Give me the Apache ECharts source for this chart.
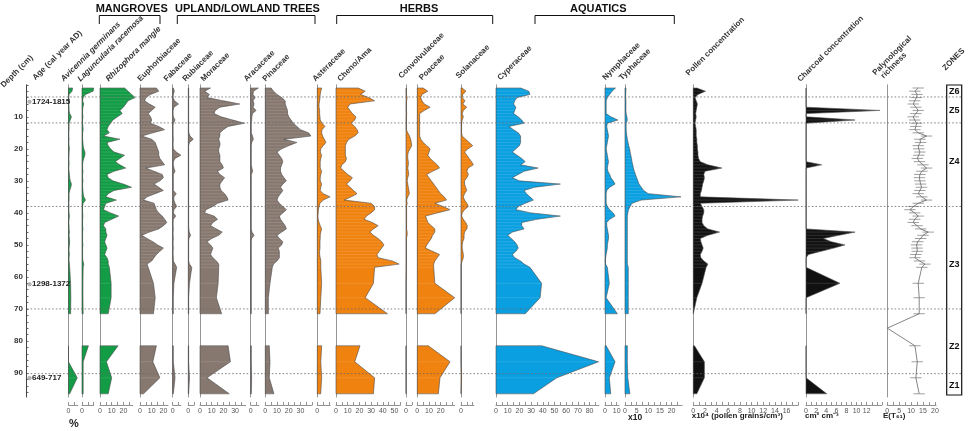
<!DOCTYPE html>
<html>
<head>
<meta charset="utf-8">
<script src="https://cdn.jsdelivr.net/npm/echarts@6/dist/echarts.min.js"></script>
<style>
html, body { margin: 0; background: #fff; }
#chart { width: 970px; height: 431px; }
</style>
</head>
<body>
<div id="chart"></div>
<script>
// sample depths (cm)
const depths = [
  1, 2, 3, 4, 5, 6, 7, 8, 9, 10,
  11, 12, 13, 14, 15, 16, 17, 18, 19, 20,
  21, 22, 23, 24, 25, 26, 27, 28, 29, 30,
  31, 32, 33, 34, 35, 36, 37, 38, 39, 40,
  41, 42, 43, 44, 45, 46, 47, 48, 49, 50,
  51, 52, 53, 54, 55, 56, 57,
  62, 66.5, 71.5, 76, 81.5, 86.5, 91.5, 96.5
];

// mangroves (%)
const avicennia = [
  3.5, 3, 0.5, 0.3, 0.5, 0.3, 0.5, 0.5, 1, 2.5,
  1.5, 0.5, 0.5, 0.5, 0.3, 0.3, 0.5, 0.3, 0.5, 0.8,
  0.5, 0.5, 0.3, 0.5, 0.5, 0.3, 0.5, 0.8, 1, 1.5,
  2.5, 2, 1, 0.5, 0.5, 0.5, 0.3, 0.5, 0.3, 0.5,
  0.8, 0.5, 0.3, 0.5, 0.5, 0.8, 0.5, 0.8, 1, 0.8,
  0.5, 0.5, 0.8, 0.5, 0.5, 0.8, 1,
  1.8, 2, 1.8, null, 0, 0, 7.5, 1
];
const laguncularia = [
  10, 9.5, 3, 1, 0.5, 1.5, 0.8, 0.5, 0.5, 0.8,
  0.5, 0.5, 0.8, 1, 0.5, 0.5, 0.5, 0.8, 1, 1.5,
  2.5, 2.5, 1.5, 0.8, 0.5, 0.5, 0.8, 0.5, 0.5, 0.8,
  0.5, 0.5, 0.8, 1, 1.5, 3, 1, 0.5, 0.5, 0.5,
  0.8, 0.5, 0.5, 0.5, 0.8, 0.5, 0.5, 0.5, 0.5, 0.8,
  0.5, 0.5, 0.5, 0.5, 0.8, 1.5, 1,
  0.8, 0.8, 1, null, 5.5, 1, 1, 1
];
const rhizophora = [
  21, 24, 27, 30, 24, 22, 20, 17, 19, 15,
  11, 9, 7, 6, 8, 3, 17, 6, 7, 9,
  12, 21, 17, 13, 17, 22, 12, 6, 7, 11,
  20, 27, 12, 7, 5, 14, 5, 4, 3, 9,
  16, 10, 4, 3, 5, 5, 6, 5, 4, 5,
  6, 5, 4, 6, 7, 7, 8,
  9.5, 9.5, 7, null, 15.5, 5.5, 10, 7
];

// upland / lowland trees (%)
const euphorbiaceae = [
  14, 16, 9, 5, 4, 8, 13, 10, 7, 9,
  10, 9, 16, 21, 11, 1.5, 10, 13, 14, 15,
  16, 16, 17, 19, 21, 5, 12, 19, 20, 17,
  12, 16, 20, 13, 6, 3, 12, 13, 14, 16,
  19, 21, 23, 20, 16, 8, 1.5, 6, 11, 15,
  20, 17, 14, 12, 10, 6, 7,
  11.5, 13, 11.5, null, 14, 11, 17, 3
];
const fabaceae = [
  0.5, 1.4, 0.5, 0.3, 1.5, 5, 1, 0.3, 0.3, 0.5,
  2, 0.5, 0.3, 0.3, 0.3, 0.3, 0.5, 0.3, 0.3, 0.5,
  3, 7, 2, 0.5, 0.5, 1, 2, 0.5, 0.5, 0.5,
  0.5, 0.5, 0.5, 3, 1, 1, 2, 3.4, 1, 0.5,
  2.6, 0.5, 0.3, 0.3, 0.5, 0.3, 0.3, 0.5, 0.3, 0.3,
  0.5, 0.3, 0.3, 0.5, 0.5, 2, 3.4,
  1, 0.5, 0.5, null, 0.5, 0.5, 2, 0.5
];
const rubiaceae = [
  0.3, 0.3, 0.3, 0.3, 0.3, 0.3, 0.3, 0.3, 0.3, 0.3,
  0.3, 0.3, 0.3, 0.3, 0.5, 1.5, 4.3, 1, 0.3, 0.3,
  0.3, 0.3, 0.3, 0.3, 0.3, 0.3, 0.3, 0.3, 0.3, 0.3,
  0.3, 0.3, 0.3, 0.3, 0.3, 0.3, 0.3, 0.3, 0.3, 0.3,
  0.3, 0.3, 0.3, 0.3, 0.5, 0.8, 2, 0.5, 0.3, 0.3,
  0.3, 0.3, 0.3, 0.3, 0.3, 1, 3,
  1, 0.3, 0.3, null, 0.3, 0.3, 1, 0.3
];
const moraceae = [
  9, 4, 8, 6, 20, 34, 17, 13, 12, 18,
  28, 38, 24, 20, 17, 17, 16, 17, 17, 16,
  16, 17, 17, 17, 19, 20, 15, 17, 21, 19,
  17, 17, 18, 21, 23, 24, 15, 11, 5, 4,
  12, 15, 11, 9, 14, 19, 16, 10, 6, 9,
  11, 10, 9, 11, 14, 16, 16,
  15.5, 14, 18.5, null, 24, 26, 6, 25
];
const aracaceae = [
  6.6, 2.3, 2, 3.7, 2, 2.9, 2, 4.6, 1.5, 1,
  0.8, 0.5, 0.5, 0.5, 0.5, 1.5, 2.3, 0.8, 0.5, 0.5,
  0.5, 0.5, 0.5, 0.5, 0.5, 1, 1.7, 0.5, 0.5, 0.5,
  0.5, 0.5, 0.5, 0.5, 0.5, 0.5, 0.5, 0.5, 0.5, 0.5,
  0.5, 0.5, 0.5, 0.5, 0.5, 1, 2.9, 0.8, 0.5, 0.5,
  0.5, 0.5, 0.5, 0.5, 0.5, 0.5, 0.5,
  0.5, 0.5, 0.5, null, 0.5, 0.5, 0.8, 0.5
];
const pinaceae = [
  5, 7, 10, 14, 17, 17, 18, 19, 19, 20,
  22, 24, 27, 30, 37, 39, 16, 27, 20, 14,
  10, 12, 14, 15, 14, 13, 13, 14, 16, 18,
  15, 13, 15, 13, 11, 10, 12, 15, 18, 15,
  12, 13, 15, 17, 18, 14, 10, 12, 15, 14,
  11, 12, 12, 12, 10, 7, 6,
  4, 2.6, 2.6, null, 3.4, 4, 3.4, 7.4
];

// herbs (%)
const asteraceae = [
  3.7, 3, 2.5, 2.3, 2, 1.5, 1.5, 2, 2, 2.3,
  2.5, 4, 6.6, 4, 3.7, 4.5, 6, 7.4, 5, 3,
  2.5, 3.7, 3, 2.5, 2.5, 2.5, 3.7, 3, 2.5, 2.5,
  3.7, 3, 2.5, 5, 10.9, 5, 2.3, 1.5, 1, 0.8,
  0.5, 0.8, 1.5, 2.5, 3.7, 3, 2.5, 2.5, 2.3, 2.3,
  2.3, 2, 2, 2.5, 3, 3, 3,
  3.7, 3, 2.3, null, 3.7, 3, 3.7, 2.9
];
const chenoAma = [
  19, 25, 21, 28, 33, 12, 10, 12, 14, 17,
  16, 13, 16, 18, 19, 16, 11, 9, 8, 8,
  8, 8, 9, 8, 5, 4, 7, 10, 14, 12,
  9, 12, 15, 18, 13, 7, 30, 33, 33, 30,
  26, 24, 31, 36, 32, 29, 32, 36, 39, 41,
  39, 37, 35, 36, 48, 54, 33,
  32, 25, 44, null, 20.5, 16, 33, 32
];
const convolvulaceae = [
  0.3, 0.3, 0.3, 1, 0.5, 0.3, 0.3, 0.3, 0.6, 0.3,
  0.3, 0.3, 0.3, 0.3, 1.5, 3, 4, 4.5, 4.9, 3.5,
  2, 1.5, 1.5, 2, 2, 1.5, 2, 2.3, 1.5, 1,
  1.5, 2, 2.5, 2.9, 1.5, 0.5, 1, 0.5, 0.5, 0.5,
  0.5, 0.5, 0.5, 0.5, 0.5, 1, 1, 0.3, 0.3, 0.3,
  0.3, 0.3, 0.3, 0.3, 0.3, 0.3, 0.3,
  0, 0, 0, null, 0, 0, 0, 0
];
const poaceae = [
  5, 9, 4, 3, 4, 6, 11, 6, 2, 2,
  2, 2, 2, 2, 2, 2, 3, 5, 8, 11,
  10, 9, 11, 14, 17, 19, 13, 8, 10, 12,
  14, 16, 18, 20, 23, 25, 15, 22, 28, 17,
  7, 8, 9, 12, 15, 15, 13, 12, 10, 8,
  7, 13, 19, 17, 15, 14, 14,
  15, 32, 15, null, 9.4, 28, 19.4, 18
];
const solanaceae = [
  1, 4.3, 1.5, 1, 3.4, 1.5, 4.9, 2, 1, 2,
  1, 0.5, 0.5, 0.5, 0.5, 1, 4, 7, 10, 6,
  3, 5, 7, 9, 10.6, 6, 5, 6.3, 5, 3,
  3, 4, 4.9, 3, 2, 3, 5, 6.3, 3, 1,
  0.5, 2, 4, 5.4, 5, 3, 2.6, 2.6, 1.5, 1,
  1, 1.5, 2, 2, 1, 0, 0,
  0, 0, 0, null, 0, 0, 0.5, 0
];

// aquatics (%, Typhaceae x10)
const cyperaceae = [
  21, 28, 29, 18, 16, 15, 17, 16, 15, 19,
  22, 24, 11, 15, 19, 21, 21, 21, 20, 17,
  14, 18, 22, 25, 21, 36, 24, 19, 14, 20,
  55, 33, 24, 26, 29, 32, 25, 19, 17, 30,
  55, 35, 22, 22, 24, 14, 10, 13, 16, 18,
  19, 17, 14, 16, 21, 24, 29,
  39, 37.7, 25, null, 39, 87.7, 52, 32
];
const nymphaceae = [
  9, 6, 4, 2, 1, 1, 1, 1, 1, 5,
  11, 2, 1.5, 2, 2.5, 3, 2.5, 2, 1.5, 1,
  1.5, 2, 2.5, 3, 2.5, 2, 2.5, 4, 5, 7,
  8.6, 4, 1.5, 1, 1, 1, 1, 2, 4, 7,
  8.6, 4, 1.5, 1.5, 2, 2.5, 3, 3, 2.5, 2,
  2, 1.5, 1, 0.5, 0.2, 0.5, 2,
  3.7, 1, 10.6, null, 1, 8.6, 3.7, 4.9
];
const typhaceae = [
  0.4, 0.4, 0.3, 0.3, 0.4, 0.4, 0.4, 0.4, 0.5, 0.8,
  1, 0.5, 0.5, 0.5, 0.6, 0.8, 1, 1.3, 1.6, 2,
  2.2, 2.5, 2.8, 3, 3.3, 3.6, 4, 4.5, 5, 5.5,
  6, 7, 8, 10, 24, 7, 3, 2.2, 1.5, 1.2,
  1, 1, 1, 1, 1, 1, 1, 1, 1, 1,
  1, 1, 1, 1, 1, 1, 1.4,
  1.4, 1.4, 1.4, null, 1, 1, 1.2, 2.1
];

// concentrations and richness
const pollenConc = [
  0.6, 2.1, 0.8, 0.3, 0.5, 0.7, 0.6, 0.5, 0.4, 0.5,
  0.4, 0.3, 0.4, 0.5, 0.5, 0.5, 0.6, 0.6, 0.7, 0.7,
  0.8, 0.8, 0.9, 1.2, 2.5, 4.9, 2, 1.8, 1.9, 1.8,
  1.6, 1.5, 1.4, 1.2, 1.2, 18, 1.2, 1.5, 1.8, 1.8,
  1.6, 1.5, 1.5, 1.8, 2.5, 4.5, 2.5, 1.2, 1.3, 1.5,
  1.7, 1.5, 1.2, 1.3, 1.8, 2.5, 2.2,
  1.5, 0.6, 0, null, 0.2, 1.9, 1.9, 0.6
];
const charcoalConc = [
  0, 0, 0, 0, 0, 0, 0, 14.6, 0, 0,
  9.7, 0, 0, 0, 0, 0, 0, 0, 0, 0,
  0, 0, 0, 0, 3.1, 0, 0, 0, 0, 0,
  0, 0, 0, 0, 0, 0, 0, 0, 0, 0,
  0, 0, 0, 0, 0, 9.7, 6.5, 3.4, 5, 7.7,
  5.5, 3, 0.5, 0, 0, 0, 0,
  6.7, 0, 0, null, 0, 0, 0, 4.1
];
const richness = [
  13, 11.6, 12.5, 12.3, 11.5, 10.9, 12, 13, 12, 10.9,
  11.5, 12.3, 12, 11.6, 13, 16.5, 13.7, 14, 13, 13.2,
  13.7, 13.2, 12.6, 13.5, 15, 16.5, 14.5, 13.7, 13.5, 13.7,
  14, 14.4, 13.7, 13, 14.5, 16.5, 13, 11, 9.5, 11.5,
  13, 11.5, 10.9, 12.5, 14, 17.2, 15, 14, 12.8, 12.3,
  12.5, 12.6, 12, 11.6, 13.5, 15.8, 14.5,
  13, 13.4, 13.4, 0, 11.6, 12.6, 12, 13.4
];

const zoneBounds = [3.8, 11.9, 38, 70, 90.2];
const zoneNames = ['Z6', 'Z5', 'Z4', 'Z3', 'Z2', 'Z1'];
const zoneMids = [2, 7.9, 24, 56.3, 81.8, 94];
const ageDepths = [5.3, 62.3, 91.6];
const ageLabels = ['1724-1815', '1298-1372', '649-717'];

const FONT = '"Liberation Sans", Arial, sans-serif';
const GREEN = '#119c45', BROWN = '#87786f', ORANGE = '#f0820f', BLUE = '#0a9fe0', BLACK = '#111111';
const TOP = 84.8, H = 312.2, DMAX = 97.5;
const P = 1.17; // px per percent

const panels = [
  { label: 'Avicennia germinans', italic: true, values: avicennia, left: 68.5, max: 8, color: GREEN, lx: 65, ly: 83 },
  { label: 'Laguncularia racemosa', italic: true, values: laguncularia, left: 82, max: 10, labelMax: 0, color: GREEN, lx: 81.7, ly: 83 },
  { label: 'Rhizophora mangle', italic: true, values: rhizophora, left: 100, max: 28, color: GREEN, lx: 110, ly: 83 },
  { label: 'Euphorbiaceae', values: euphorbiaceae, left: 140, max: 24, color: BROWN, lx: 141.7, ly: 83 },
  { label: 'Fabaceae', values: fabaceae, left: 172.7, max: 7, color: BROWN, lx: 168, ly: 83 },
  { label: 'Rubiaceae', values: rubiaceae, left: 188.3, max: 5, color: BROWN, lx: 186.7, ly: 83 },
  { label: 'Moraceae', values: moraceae, left: 200, max: 39, color: BROWN, lx: 205, ly: 83 },
  { label: 'Aracaceae', values: aracaceae, left: 250.7, max: 7, color: BROWN, lx: 248, ly: 83 },
  { label: 'Pinaceae', values: pinaceae, left: 265.3, max: 40, labelMax: 30, color: BROWN, lx: 266.7, ly: 83 },
  { label: 'Asteraceae', values: asteraceae, left: 317.3, max: 11, labelMax: 0, color: ORANGE, lx: 316.7, ly: 83 },
  { label: 'Cheno/Ama', values: chenoAma, left: 336, max: 55, color: ORANGE, lx: 341.7, ly: 83 },
  { label: 'Convolvulaceae', values: convolvulaceae, left: 406, max: 5, color: ORANGE, lx: 402.7, ly: 80 },
  { label: 'Poaceae', values: poaceae, left: 417.3, max: 32, labelMax: 20, color: ORANGE, lx: 423.3, ly: 81.7 },
  { label: 'Solanaceae', values: solanaceae, left: 461, max: 11, labelMax: 0, color: ORANGE, lx: 460, ly: 80 },
  { label: 'Cyperaceae', values: cyperaceae, left: 496, max: 88, color: BLUE, lx: 501.7, ly: 81.7 },
  { label: 'Nymphaceae', values: nymphaceae, left: 605, max: 12, color: BLUE, lx: 606.7, ly: 81.7 },
  { label: 'Typhaceae', values: typhaceae, left: 625, ppu: 2.33, max: 24.5, tickStep: 2.5, labelStep: 5, color: BLUE, lx: 623.3, ly: 81.7 },
  { label: 'Pollen concentration', values: pollenConc, left: 693.3, ppu: 5.83, max: 18, tickStep: 1, labelStep: 2, labelMax: 16, color: BLACK, lx: 690, ly: 77.3 },
  { label: 'Charcoal concentration', values: charcoalConc, left: 806, ppu: 5.06, max: 15, tickStep: 1, labelStep: 2, labelMax: 12, color: BLACK, lx: 801.7, ly: 83.3 }
];

function steps(max, step) {
  const out = [];
  for (let v = 0; v <= max + 1e-9; v += step) out.push(+v.toFixed(2));
  return out;
}

const grids = [], xAxes = [], yAxes = [], series = [];
function addGrid(g, x, y) {
  grids.push(g);
  const i = grids.length - 1;
  xAxes.push(Object.assign({ gridIndex: i }, x));
  yAxes.push(Object.assign({ gridIndex: i }, y));
  return i;
}
const hiddenX = { type: 'value', show: false, min: 0, max: 1 };
const depthY = {
  type: 'value', inverse: true, min: 0, max: DMAX,
  axisLabel: { show: false }, axisTick: { show: false }, splitLine: { show: false },
  axisLine: { show: false, onZero: false }
};

// depth axis
addGrid({ left: 26, top: TOP, width: 1, height: H }, hiddenX, Object.assign({}, depthY, {
  axisLine: { show: true, onZero: false, lineStyle: { color: '#444', width: 1 } },
  axisTick: { show: true, inside: true, length: 2.5, customValues: steps(96, 2), lineStyle: { color: '#444', width: 0.8 } },
  axisLabel: { show: true, customValues: [10, 20, 30, 40, 50, 60, 70, 80, 90], fontSize: 8, fontWeight: 'bold', color: '#333', margin: 3, fontFamily: FONT }
}));

function bottomAxis(max, tickStep, labelStep, labelMax) {
  return {
    type: 'value', min: 0, max: max, position: 'bottom', offset: 8,
    axisLine: { show: true, onZero: false, lineStyle: { color: '#777', width: 0.8 } },
    axisTick: { show: true, inside: true, length: 3, customValues: steps(max, tickStep), lineStyle: { color: '#777', width: 0.8 } },
    axisLabel: { show: true, customValues: steps(labelMax, labelStep), fontSize: 7, color: '#555', margin: 3, fontFamily: FONT },
    splitLine: { show: false }
  };
}

function areaRender(p) {
  return function (params, api) {
    if (params.dataIndex !== 0) return;
    const segs = [];
    let seg = [];
    depths.forEach((d, i) => {
      const v = p.values[i];
      if (v == null) {
        if (seg.length) segs.push(seg);
        seg = [];
      } else {
        seg.push([v, d]);
      }
    });
    if (seg.length) segs.push(seg);
    const children = [];
    segs.forEach(s => {
      const pts = [api.coord([0, s[0][1]])];
      s.forEach(q => pts.push(api.coord(q)));
      pts.push(api.coord([0, s[s.length - 1][1]]));
      children.push({ type: 'polygon', shape: { points: pts }, style: { fill: p.color, stroke: '#4a4a4a', lineWidth: 0.6 } });
      s.forEach(q => {
        const a = api.coord([0, q[1]]), b = api.coord(q);
        if (b[0] - a[0] > 1.5) {
          children.push({ type: 'line', shape: { x1: a[0] + 0.6, y1: a[1], x2: b[0] - 0.6, y2: b[1] },
            style: { stroke: 'rgba(255,255,255,0.25)', lineWidth: 0.5 } });
        }
      });
    });
    return { type: 'group', children: children };
  };
}

panels.forEach(p => {
  const ppu = p.ppu || P;
  const gi = addGrid(
    { left: p.left, top: TOP, width: p.max * ppu, height: H },
    bottomAxis(p.max, p.tickStep || 5, p.labelStep || 10, p.labelMax != null ? p.labelMax : p.max),
    Object.assign({}, depthY, { axisLine: { show: true, onZero: false, lineStyle: { color: '#8a8a8a', width: 0.9 } } })
  );
  series.push({
    type: 'custom', xAxisIndex: gi, yAxisIndex: gi, silent: true, z: 2,
    data: depths.map((d, i) => [p.values[i] == null ? 0 : p.values[i], d]),
    encode: { x: 0, y: 1 },
    renderItem: areaRender(p)
  });
});

// palynological richness
const rg = addGrid(
  { left: 887.3, top: TOP, width: 20.5 * 2.38, height: H },
  bottomAxis(20.5, 2.5, 5, 20),
  Object.assign({}, depthY, { axisLine: { show: true, onZero: false, lineStyle: { color: '#8a8a8a', width: 0.9 } } })
);
const richRows = depths.map((d, i) => [richness[i], d]);
series.push({
  type: 'line', xAxisIndex: rg, yAxisIndex: rg, silent: true, symbol: 'none', z: 3,
  data: richRows, lineStyle: { color: '#666', width: 0.8 }
});
series.push({
  type: 'custom', xAxisIndex: rg, yAxisIndex: rg, silent: true, z: 3,
  data: richRows, encode: { x: 0, y: 1 },
  renderItem: function (params, api) {
    const v = api.value(0), d = api.value(1);
    if (!v) return;
    const a = api.coord([v - 2.4, d]), b = api.coord([v + 2.4, d]);
    return { type: 'line', shape: { x1: a[0], y1: a[1], x2: b[0], y2: b[1] }, style: { stroke: '#777', lineWidth: 0.7 } };
  }
});

// overlay: zone boundaries and dated levels
const og = addGrid({ left: 27, top: TOP, width: 935, height: H }, hiddenX, Object.assign({}, depthY, { show: false }));
series.push({
  type: 'custom', xAxisIndex: og, yAxisIndex: og, silent: true, z: 6,
  data: zoneBounds.map(d => [0, d]), encode: { x: 0, y: 1 },
  renderItem: function (params, api) {
    const a = api.coord([0, api.value(1)]), b = api.coord([1, api.value(1)]);
    return { type: 'line', shape: { x1: a[0], y1: a[1], x2: b[0], y2: b[1] },
      style: { stroke: '#6a6a6a', lineWidth: 0.8, lineDash: [1.6, 2] } };
  }
});
series.push({
  type: 'custom', xAxisIndex: og, yAxisIndex: og, silent: true, z: 7,
  data: ageDepths.map(d => [0, d]), encode: { x: 0, y: 1 },
  renderItem: function (params, api) {
    const pt = api.coord([0, api.value(1)]);
    return { type: 'group', children: [
      { type: 'circle', shape: { cx: pt[0] + 2.5, cy: pt[1], r: 1.8 }, style: { fill: '#bbb', stroke: '#888', lineWidth: 0.5 } },
      { type: 'text', x: pt[0] + 5, y: pt[1], style: { text: ageLabels[params.dataIndex], fill: '#222',
        font: 'bold 8px ' + FONT, textAlign: 'left', textVerticalAlign: 'middle' } }
    ] };
  }
});

// zones box
const zg = addGrid(
  { left: 946.7, top: 85, width: 15, height: 310, show: true, borderColor: '#111', borderWidth: 1.2, backgroundColor: 'transparent' },
  hiddenX,
  { type: 'value', inverse: true, show: false, min: (85 - TOP) / 3.2, max: (395 - TOP) / 3.2 }
);
series.push({
  type: 'custom', xAxisIndex: zg, yAxisIndex: zg, silent: true, z: 7,
  data: zoneMids.map(d => [0.5, d]), encode: { x: 0, y: 1 },
  renderItem: function (params, api) {
    const pt = api.coord([0.5, api.value(1)]);
    return { type: 'text', x: pt[0], y: pt[1], style: { text: zoneNames[params.dataIndex], fill: '#111',
      font: 'bold 9px ' + FONT, textAlign: 'center', textVerticalAlign: 'middle' } };
  }
});

// headers, brackets and rotated column titles
const graphic = [];
function header(text, cx, x1, x2) {
  graphic.push({ type: 'text', x: cx, y: 14, style: { text: text, fill: '#111', font: 'bold 11px ' + FONT,
    textAlign: 'center', textVerticalAlign: 'bottom' } });
  graphic.push({ type: 'polyline', shape: { points: [[x1, 24], [x1, 15.5], [x2, 15.5], [x2, 24]] },
    style: { stroke: '#111', lineWidth: 1, fill: null } });
}
header('MANGROVES', 131.7, 99.3, 160);
header('UPLAND/LOWLAND TREES', 247.5, 177.3, 315);
header('HERBS', 419, 336.7, 492.7);
header('AQUATICS', 598.3, 535, 674.3);

function tilted(text, x, y, italic) {
  graphic.push({ type: 'text', x: x, y: y, rotation: Math.PI / 4,
    style: { text: text, fill: '#333', font: (italic ? 'italic ' : '') + 'bold 8px ' + FONT,
      textAlign: 'left', textVerticalAlign: 'bottom' } });
}
tilted('Depth (cm)', 5, 89);
tilted('Age (cal year AD)', 36.7, 81.7);
panels.forEach(p => tilted(p.label, p.lx, p.ly, p.italic));
tilted('Palynological', 876.7, 76.7);
tilted('richness', 885, 80);
tilted('ZONES', 946.7, 72);

function plain(text, x, y, size) {
  graphic.push({ type: 'text', x: x, y: y, style: { text: text, fill: '#222', font: 'bold ' + size + 'px ' + FONT,
    textAlign: 'left', textVerticalAlign: 'middle' } });
}
plain('%', 69, 424, 11);
plain('x10', 628, 418, 8.5);
plain('x10\u2074 (pollen grains/cm\u00b3)', 691.7, 416, 8);
plain('cm\u00b2 cm\u207b\u00b3', 805, 416, 8);
plain('E(T\u2086\u2081)', 883, 416, 8);

const chart = echarts.init(document.getElementById('chart'));
chart.setOption({
  animation: false,
  backgroundColor: '#fff',
  textStyle: { fontFamily: FONT },
  grid: grids,
  xAxis: xAxes,
  yAxis: yAxes,
  series: series,
  graphic: graphic
});
</script>
</body>
</html>
